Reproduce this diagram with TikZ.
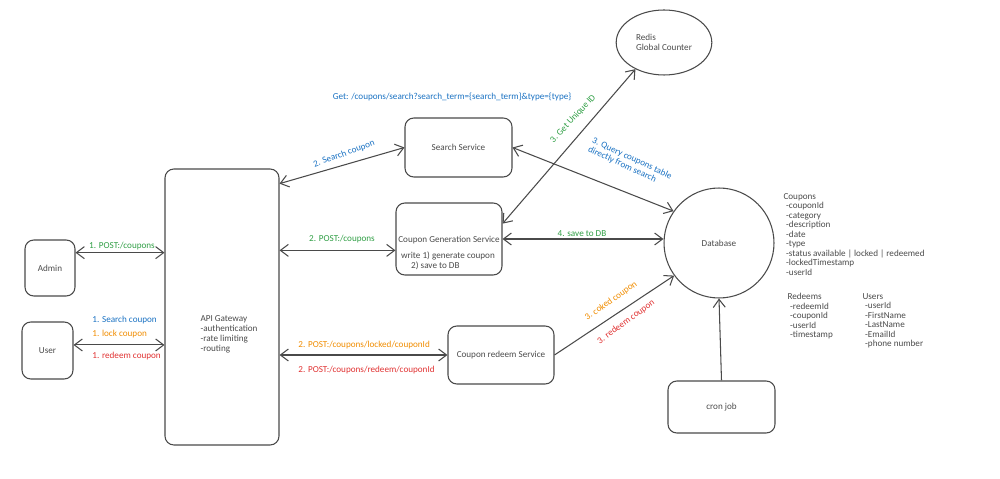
\documentclass[tikz,border=0pt]{standalone}
\usepackage{fontspec}
\setmainfont{Carlito}
\usetikzlibrary{arrows.meta,shapes.geometric}
\definecolor{exblue}{HTML}{1971C2}
\definecolor{exgreen}{HTML}{2F9E44}
\definecolor{exorange}{HTML}{F08C00}
\definecolor{exred}{HTML}{E03131}
\definecolor{exline}{HTML}{4A4A4A}

\begin{document}
\begin{tikzpicture}[x=0.02cm, y=-0.02cm,
    every node/.style={font=\fontsize{5.2}{5.4}\selectfont},
    box/.style={draw=exline, line width=0.6pt, rounded corners=5pt},
    tilted/.style={inner sep=0.5pt},
    >={Straight Barb[length=1.6mm,width=2.4mm]},
    every path/.append style={line width=0.6pt, exline}]
    \useasboundingbox (0,0) rectangle (1000,479);

    % clients
    \node[box, minimum width=1cm, minimum height=1.12cm] (admin) at (50,268) {Admin};
    \node[box, minimum width=1.02cm, minimum height=1.14cm] (user) at (47.5,350.5) {User};

    % gateway
    \node[box, minimum width=2.28cm, minimum height=5.52cm] (gw) at (222,307) {};
    \node[align=left, anchor=north west, inner sep=0, font=\fontsize{5.2}{5.7}\selectfont] (gwtext) at (200,315) {API Gateway\\-authentication\\-rate limiting\\-routing};

    % services
    \node[box, minimum width=2.14cm, minimum height=1.18cm] (search) at (458.5,147.5) {Search Service};
    \node[box, minimum width=2.12cm, minimum height=1.44cm] (cgen) at (449,239) {};
    \node (cgentext) at (449,240) {Coupon Generation Service};
    \node[align=left] (cgenwrite) at (448,261) {write 1) generate coupon\\\hspace*{1.1em}2) save to DB};
    \node[box, minimum width=2.12cm, minimum height=1.16cm] (redeem) at (501,355) {Coupon redeem Service};
    \node[box, minimum width=2.14cm, minimum height=1.04cm] (cron) at (721.5,407) {cron job};

    % stores
    \node[draw=exline, ellipse, minimum width=1.68cm, minimum height=1.3cm, align=left] (redis) at (664,42.5) {Redis\\Global Counter};
    \node[draw=exline, circle, minimum size=2.2cm] (db) at (719,243) {Database};

    % tables
    \node[align=left, anchor=north west, inner sep=0] (coupons) at (783,193) {Coupons\\\hspace*{1.5pt}-couponId\\\hspace*{1.5pt}-category\\\hspace*{1.5pt}-description\\\hspace*{1.5pt}-date\\\hspace*{1.5pt}-type\\\hspace*{1.5pt}-status available | locked | redeemed\\\hspace*{1.5pt}-lockedTimestamp\\\hspace*{1.5pt}-userId};
    \node[align=left, anchor=north west, inner sep=0] (redeems) at (787,293) {Redeems\\\hspace*{1.5pt}-redeemId\\\hspace*{1.5pt}-couponId\\\hspace*{1.5pt}-userId\\\hspace*{1.5pt}-timestamp};
    \node[align=left, anchor=north west, inner sep=0] (users) at (862,293) {Users\\\hspace*{1.5pt}-userId\\\hspace*{1.5pt}-FirstName\\\hspace*{1.5pt}-LastName\\\hspace*{1.5pt}-EmailId\\\hspace*{1.5pt}-phone number};

    % labels
    \node[text=exgreen] (l1post) at (122,246) {1. POST:/coupons};
    \node[text=exblue, anchor=west] (l1search) at (86,320) {1. Search coupon};
    \node[text=exorange, anchor=west] (l1lock) at (86,334) {1. lock coupon};
    \node[text=exred, anchor=west] (l1redeem) at (86,356) {1. redeem coupon};
    \node[text=exblue, tilted, rotate=20] (l2search) at (344,154) {2. Search coupon};
    \node[text=exgreen] (l2post) at (342,239) {2. POST:/coupons};
    \node[text=exorange, anchor=west] (l2lock) at (292,345) {2. POST:/coupons/locked/couponId};
    \node[text=exred, anchor=west] (l2redeem) at (292,370) {2. POST:/coupons/redeem/couponId};
    \node[text=exblue] (lget) at (452,97) {Get: /coupons/search?search\_term=\{search\_term\}\&type=\{type\}};
    \node[text=exgreen, tilted, rotate=47] (l3uid) at (573,119) {3. Get Unique ID};
    \node[text=exblue, tilted, rotate=-25, align=left] (l3query) at (630,163) {3. Query coupons table\\directly from search};
    \node[text=exorange, tilted, rotate=35] (l3lock) at (611,301) {3. coked coupon};
    \node[text=exred, tilted, rotate=36] (l3redeem) at (626,322) {3. redeem coupon};
    \node[text=exgreen] (l4save) at (582,234) {4. save to DB};

    % connectors
    \draw[<->] (admin.31) -- (admin.31 -| gw.west);
    \draw[<->] (user.12) -- (user.12 -| gw.west);
    \draw[<->] (gw.65) -- (search.west);
    \draw[<->] (cgen.192 -| gw.east) -- (cgen.192);
    \draw[<->] (redeem.west -| gw.east) -- (redeem.west);
    \draw[<->] (cgen.16) -- (redis.223);
    \draw[<->] (search.east) -- (db.145);
    \draw[<->] (cgen.east) -- (cgen.east -| db.west);
    \draw[->] (redeem.east) -- (db.216);
    \draw[->] (cron.north) -- (db.south);
\end{tikzpicture}
\end{document}
